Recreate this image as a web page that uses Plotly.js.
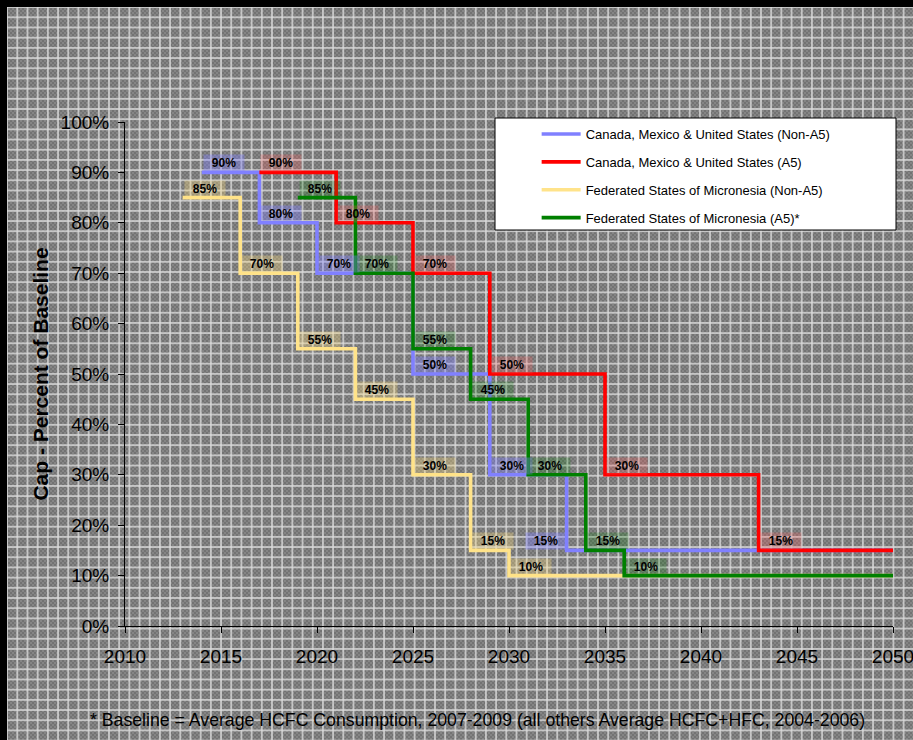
<!DOCTYPE html>
<html>
<head>
<meta charset="utf-8">
<script src="https://cdn.plot.ly/plotly-3.0.1.min.js"></script>
<style>
  html, body { margin: 0; padding: 0; }
  html {
    background-color: #7b7b7b;
    background-image:
      linear-gradient(to right, rgba(218,218,218,0.78) 2px, transparent 2px),
      linear-gradient(to bottom, rgba(218,218,218,0.78) 2px, transparent 2px),
      conic-gradient(#737373 25%, #858585 0 50%, #737373 0 75%, #858585 0);
    background-size: 10.2px 10.2px, 10.2px 10.2px, 4px 4px;
    background-position: 6.2px 6.2px, 6.2px 6.2px, 0 0;
  }
  #chart { width: 913px; height: 740px; }
</style>
</head>
<body>
<div id="chart"></div>
<script>
// Phase-down caps (percent of baseline); each year marks the start of a step.
const cmuNonA5Years = [2014, 2017, 2020, 2025, 2029, 2033, 2050];
const cmuNonA5Caps  = [90, 80, 70, 50, 30, 15, 15];

const cmuA5Years = [2017, 2021, 2025, 2029, 2035, 2043, 2050];
const cmuA5Caps  = [90, 80, 70, 50, 30, 15, 15];

const fsmNonA5Years = [2013, 2016, 2019, 2022, 2025, 2028, 2030, 2050];
const fsmNonA5Caps  = [85, 70, 55, 45, 30, 15, 10, 10];

const fsmA5Years = [2019, 2022, 2025, 2028, 2031, 2034, 2036, 2050];
const fsmA5Caps  = [85, 70, 55, 45, 30, 15, 10, 10];

const seriesNames = [
  'Canada, Mexico & United States (Non-A5)',
  'Canada, Mexico & United States (A5)',
  'Federated States of Micronesia (Non-A5)',
  'Federated States of Micronesia (A5)*'
];

const xTickYears = [2010, 2015, 2020, 2025, 2030, 2035, 2040, 2045, 2050];
const yTickCaps  = [0, 10, 20, 30, 40, 50, 60, 70, 80, 90, 100];

const footnote = '* Baseline = Average HCFC Consumption, 2007-2009 (all others Average HCFC+HFC, 2004-2006)';

const FONT = '"Liberation Sans", Arial, sans-serif';

const W = 913, H = 740;
const M = { l: 125, r: 20, t: 122, b: 114 };
const plotW = W - M.l - M.r, plotH = H - M.t - M.b;
// pixel position -> paper fraction
const px = v => (v - M.l) / plotW;
const py = v => (H - M.b - v) / plotH;

const series = [
  { name: seriesNames[0], x: cmuNonA5Years, y: cmuNonA5Caps, color: '#8080ff', tag: 'rgba(128,128,255,0.38)' },
  { name: seriesNames[1], x: cmuA5Years,    y: cmuA5Caps,    color: '#ff0000', tag: 'rgba(255,90,90,0.25)' },
  { name: seriesNames[2], x: fsmNonA5Years, y: fsmNonA5Caps, color: '#ffe38a', tag: 'rgba(255,224,128,0.32)' },
  { name: seriesNames[3], x: fsmA5Years,    y: fsmA5Caps,    color: '#008000', tag: 'rgba(0,128,0,0.22)' }
];

// The 15% tag of the first series sits to the left of its step
const leftSideTags = { 0: [5] };

const traces = series.map((s, i) => ({
  type: 'scatter',
  mode: 'lines',
  name: s.name,
  legendgroup: 'g' + i,
  x: s.x,
  y: s.y,
  line: { shape: 'hv', color: s.color, width: 3.6 },
  hoverinfo: 'x+y+name'
}));

const annotations = [];
series.forEach((s, si) => {
  for (let k = 0; k < s.x.length - 1; k++) {
    const onLeft = (leftSideTags[si] || []).includes(k);
    annotations.push({
      xref: 'x', yref: 'y',
      x: s.x[k], y: s.y[k],
      text: '<b>' + s.y[k] + '%</b>',
      showarrow: false,
      xanchor: onLeft ? 'right' : 'left',
      yanchor: 'bottom',
      xshift: onLeft ? 0 : 1,
      width: 40, height: 16,
      align: 'center',
      bgcolor: s.tag,
      borderpad: 0,
      font: { family: FONT, size: 12, color: '#000' }
    });
  }
});

annotations.push({
  xref: 'paper', yref: 'paper',
  x: 0.459, y: -0.186,
  xanchor: 'center', yanchor: 'middle',
  text: footnote,
  showarrow: false,
  font: { family: FONT, size: 17.7, color: '#000' }
});

const layout = {
  width: W, height: H,
  margin: M,
  paper_bgcolor: 'rgba(0,0,0,0)',
  plot_bgcolor: 'rgba(0,0,0,0)',
  font: { family: FONT, color: '#000' },
  showlegend: true,
  xaxis: {
    range: [2010, 2050],
    tickvals: xTickYears,
    ticktext: xTickYears.map(String),
    ticks: 'outside', ticklen: 6, tickwidth: 1, tickcolor: '#000',
    ticklabelstandoff: 7,
    ticklabeloverflow: 'allow',
    showline: true, linecolor: '#000', linewidth: 1,
    showgrid: false, zeroline: false,
    tickfont: { family: FONT, size: 19, color: '#000' }
  },
  yaxis: {
    range: [0, 100],
    tickvals: yTickCaps,
    ticktext: yTickCaps.map(v => v + '%'),
    ticks: 'outside', ticklen: 6, tickwidth: 1, tickcolor: '#000',
    ticklabelstandoff: 5,
    showline: true, linecolor: '#000', linewidth: 1,
    showgrid: false, zeroline: false,
    tickfont: { family: FONT, size: 19, color: '#000' },
    title: {
      text: '<b>Cap - Percent of Baseline</b>',
      font: { family: FONT, size: 21, color: '#000' },
      standoff: 6
    }
  },
  legend: {
    x: 0.536, y: 1.006,
    xanchor: 'left', yanchor: 'top',
    bgcolor: 'rgba(0,0,0,0)',
    borderwidth: 0,
    traceorder: 'grouped',
    tracegroupgap: 8,
    itemwidth: 39,
    font: { family: FONT, size: 13, color: '#000' }
  },
  shapes: [
    // legend panel
    {
      type: 'rect', xref: 'paper', yref: 'paper', layer: 'above',
      x0: px(495), x1: px(896), y0: py(230), y1: py(118),
      fillcolor: '#ffffff',
      line: { color: '#000', width: 1 }
    },
    // dark frame along the top and left edges of the page
    {
      type: 'rect', xref: 'paper', yref: 'paper', layer: 'below',
      x0: px(0), x1: px(W), y0: py(7), y1: py(0),
      fillcolor: '#000', line: { width: 0 }
    },
    {
      type: 'rect', xref: 'paper', yref: 'paper', layer: 'below',
      x0: px(0), x1: px(7), y0: py(H), y1: py(0),
      fillcolor: '#000', line: { width: 0 }
    }
  ],
  annotations: annotations
};

Plotly.newPlot('chart', traces, layout, { displayModeBar: false, responsive: false });
</script>
</body>
</html>
